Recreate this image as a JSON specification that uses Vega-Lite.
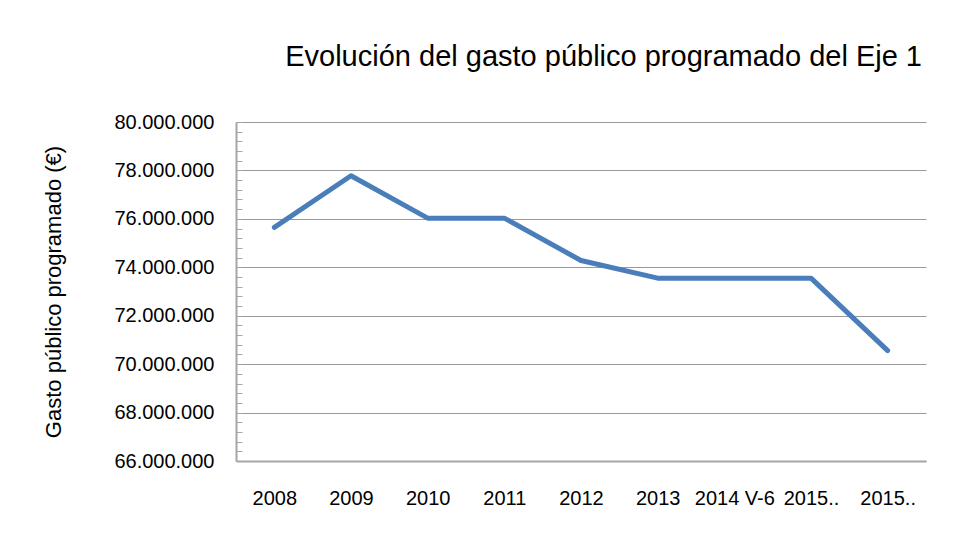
{
  "$schema": "https://vega.github.io/schema/vega-lite/v6.json",
  "width": 690,
  "height": 339,
  "autosize": "none",
  "padding": {"left": 236, "top": 122, "right": 48, "bottom": 74},
  "background": "white",
  "title": {
    "text": "Evolución del gasto público programado del Eje 1",
    "anchor": "end",
    "dx": -4,
    "offset": 40,
    "font": "Liberation Sans",
    "fontSize": 29,
    "fontWeight": "normal",
    "color": "black"
  },
  "config": {"view": {"stroke": null}},
  "data": {
    "values": [
      {"periodo": "2008", "gasto": 75650000},
      {"periodo": "2009", "gasto": 77780000},
      {"periodo": "2010", "gasto": 76030000},
      {"periodo": "2011", "gasto": 76030000},
      {"periodo": "2012", "gasto": 74280000},
      {"periodo": "2013", "gasto": 73550000},
      {"periodo": "2014 V-6", "gasto": 73550000},
      {"periodo": "2015-a", "gasto": 73550000},
      {"periodo": "2015-b", "gasto": 70560000}
    ]
  },
  "mark": {"type": "line", "color": "#4a7ebb", "strokeWidth": 5, "strokeCap": "round", "strokeJoin": "round"},
  "encoding": {
    "x": {
      "field": "periodo",
      "type": "ordinal",
      "sort": null,
      "axis": {
        "title": null,
        "labelExpr": "indexof(datum.value, '2015') === 0 ? '2015..' : datum.value",
        "labelAngle": 0,
        "ticks": false,
        "grid": false,
        "domainColor": "#a6a6a6",
        "domainWidth": 2,
        "labelFont": "Liberation Sans",
        "labelFontSize": 20,
        "labelColor": "black",
        "labelPadding": 27
      }
    },
    "y": {
      "field": "gasto",
      "type": "quantitative",
      "scale": {"domain": [66000000, 80000000], "zero": false, "nice": false},
      "axis": {
        "title": "Gasto público programado (€)",
        "titleFont": "Liberation Sans",
        "titleFontSize": 22,
        "titleFontWeight": "normal",
        "titleColor": "black",
        "titlePadding": 48,
        "values": [66000000, 66400000, 66800000, 67200000, 67600000, 68000000, 68400000, 68800000, 69200000, 69600000, 70000000, 70400000, 70800000, 71200000, 71600000, 72000000, 72400000, 72800000, 73200000, 73600000, 74000000, 74400000, 74800000, 75200000, 75600000, 76000000, 76400000, 76800000, 77200000, 77600000, 78000000, 78400000, 78800000, 79200000, 79600000, 80000000],
        "labelExpr": "datum.value % 2000000 === 0 ? replace(format(datum.value, ','), regexp(',', 'g'), '.') : ''",
        "labelFont": "Liberation Sans",
        "labelFontSize": 20,
        "labelColor": "black",
        "labelPadding": 28,
        "grid": true,
        "gridColor": "#999999",
        "gridWidth": 1,
        "gridOpacity": {"condition": {"test": "datum.value % 2000000 === 0", "value": 1}, "value": 0},
        "tickSize": -6,
        "tickColor": "#a6a6a6",
        "tickWidth": 1,
        "domainColor": "#a6a6a6",
        "domainWidth": 2
      }
    }
  }
}
